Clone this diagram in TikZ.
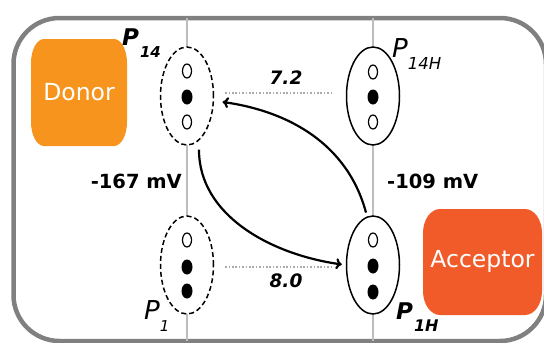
\documentclass[tikz,border=0pt]{standalone}
\usepackage{fontspec}
\setmainfont{DejaVu Sans}
\usetikzlibrary{shapes.geometric,arrows.meta}
\definecolor{donorc}{HTML}{F7941D}
\definecolor{accc}{HTML}{F15A29}
\definecolor{framec}{HTML}{808080}
\definecolor{linec}{HTML}{BDBDBD}
\definecolor{dotc}{HTML}{ABABAB}
\begin{document}
\begin{tikzpicture}[x=1pt,y=1pt,
  pool/.style={ellipse, draw, fill=white, line width=1.5pt, minimum width=53pt, minimum height=98pt, inner sep=0pt},
  dpool/.style={pool, dash pattern=on 5pt off 3pt},
  emptyq/.style={ellipse, draw, line width=1.2pt, fill=white, minimum width=9pt, minimum height=14pt, inner sep=0pt},
  fullq/.style={ellipse, fill=black, minimum width=11pt, minimum height=15pt, inner sep=0pt},
  boxtext/.style={text=white, font=\fontsize{23.5}{28}\selectfont, inner sep=0pt},
  dotline/.style={dotc, line width=2.5pt, dash pattern=on 1.6pt off 1.8pt},
  conn/.style={line width=2.2pt, -{To[length=6pt,width=11pt]}},
  numlab/.style={font=\fontsize{18.5}{22}\selectfont\bfseries\itshape, inner sep=0pt},
  mvlab/.style={font=\fontsize{19.5}{23}\selectfont\bfseries, inner sep=0pt},
  plab/.style={anchor=base west, inner sep=0pt}
]
\useasboundingbox (0,0) rectangle (544,-343);
% frame
\draw[framec, line width=4.5pt, rounded corners=46pt] (13.5,-18) rectangle (546,-341);
% vertical lines
\draw[linec, line width=2.5pt] (187,-18) -- (187,-341);
\draw[linec, line width=2.5pt] (373,-18) -- (373,-341);
% donor / acceptor shapes
\fill[donorc] (44,-39) -- (114,-39) arc[start angle=90,end angle=0,x radius=13,y radius=24]
  -- (127,-122) arc[start angle=0,end angle=-90,x radius=13,y radius=24]
  -- (44,-146) arc[start angle=-90,end angle=-180,x radius=13,y radius=24]
  -- (31,-63) arc[start angle=180,end angle=90,x radius=13,y radius=24] -- cycle;
\fill[accc] (440,-209) -- (525,-209) arc[start angle=90,end angle=0,x radius=17,y radius=24]
  -- (542,-291) arc[start angle=0,end angle=-90,x radius=17,y radius=24]
  -- (440,-315) arc[start angle=-90,end angle=-180,x radius=17,y radius=24]
  -- (423,-233) arc[start angle=180,end angle=90,x radius=17,y radius=24] -- cycle;
\node[boxtext] (donor) at (79,-92) {Donor};
\node[boxtext] (acceptor) at (482.5,-261) {Acceptor};
% pools
\node[dpool] (p14) at (187,-96) {};
\node[pool] (p14h) at (373,-96) {};
\node[dpool] (p1) at (187,-265) {};
\node[pool] (p1h) at (373,-265) {};
% quinone sites
\node[emptyq] (a1) at (187,-71) {};
\node[fullq]  (a2) at (187,-97) {};
\node[emptyq] (a3) at (187,-122) {};
\node[emptyq] (b1) at (373,-72) {};
\node[fullq]  (b2) at (373,-97) {};
\node[emptyq] (b3) at (373,-122) {};
\node[emptyq] (c1) at (187,-240) {};
\node[fullq]  (c2) at (187,-267) {};
\node[fullq]  (c3) at (187,-291) {};
\node[emptyq] (d1) at (373,-240) {};
\node[fullq]  (d2) at (373,-266) {};
\node[fullq]  (d3) at (373,-292) {};
% dotted links
\draw[dotline, shorten <=11pt, shorten >=12pt] ([yshift=3pt]p14.east) -- ([yshift=3pt]p14h.west);
\draw[dotline, shorten <=11pt, shorten >=12pt] ([yshift=-2pt]p1.east) -- ([yshift=-2pt]p1h.west);
% labels
\node[numlab] (k1) at (286,-78) {7.2};
\node[numlab] (k2) at (286,-281) {8.0};
\node[mvlab, anchor=east] (e1) at (182,-181) {-167 mV};
\node[mvlab, anchor=west] (e2) at (387,-181) {-109 mV};
\node[plab] (l14) at (122,-45) {\fontsize{23}{26}\selectfont\bfseries\itshape P\kern1pt\raisebox{-12pt}{\fontsize{15}{17}\selectfont 14}};
\node[plab] (l14h) at (392,-57) {\fontsize{26}{30}\selectfont\itshape P\raisebox{-12pt}{\fontsize{16.5}{18}\selectfont 14H}};
\node[plab] (l1) at (144,-319) {\fontsize{26}{30}\selectfont\itshape P\raisebox{-12pt}{\fontsize{15}{16}\selectfont 1}};
\node[plab] (l1h) at (396,-319) {\fontsize{23}{26}\selectfont\bfseries\itshape P\kern1pt\raisebox{-12pt}{\fontsize{16}{17}\selectfont 1H}};
% transfers
\draw[conn, shorten <=9pt, shorten >=4pt] (p14.-75) to[out=-90, in=172] (p1h.west);
\draw[conn, shorten <=4pt, shorten >=8.5pt] (p1h.97) to[out=105, in=-8] (p14.-10);
\end{tikzpicture}
\end{document}
